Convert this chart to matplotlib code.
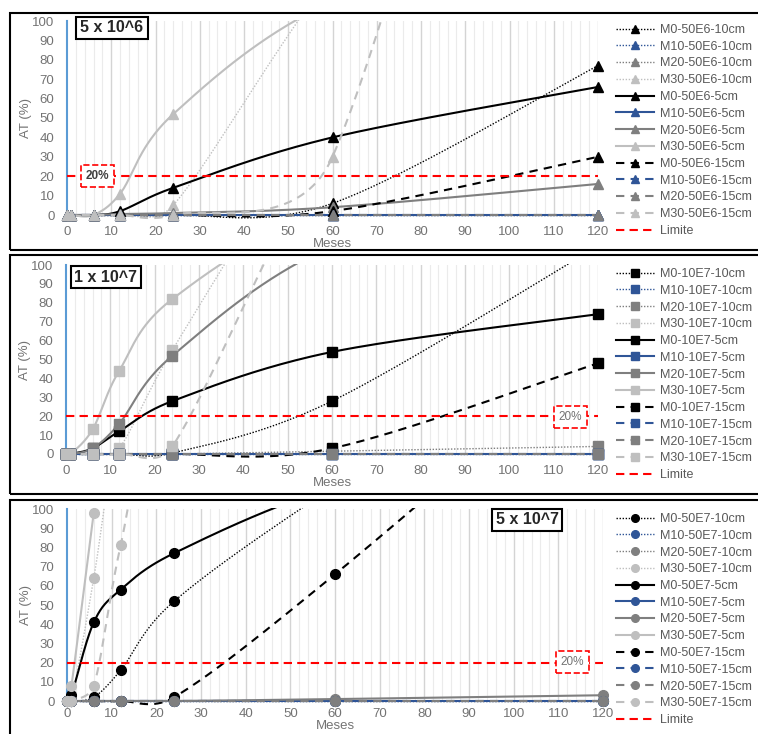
import numpy as np
import matplotlib
matplotlib.use("Agg")
import matplotlib.pyplot as plt
from matplotlib.lines import Line2D
from matplotlib.patches import Rectangle

plt.rcParams['font.family'] = ['Liberation Sans', 'DejaVu Sans']

# months where the data was measured
meses = [0, 1, 6, 12, 24, 60, 120]
zeros = [0, 0, 0, 0, 0, 0, 0]

# panel 1 : 5 x 10^6 (triangles)
p1_m0_10 = [0, 0, 0, 0, 0, 6, 77]
p1_m10_10 = zeros
p1_m20_10 = zeros
p1_m30_10 = [0, 0, 0, 0, 5, 125, 300]
p1_m0_5 = [0, 0, 0, 2, 14, 40, 66]
p1_m10_5 = zeros
p1_m20_5 = [0, 0, 0, 0.5, 1, 4, 16]
p1_m30_5 = [0, 0, 0, 11, 52, 110, 150]
p1_m0_15 = [0, 0, 0, 0, 0, 2, 30]
p1_m10_15 = zeros
p1_m20_15 = zeros
p1_m30_15 = [0, 0, 0, 0, 0, 30, 500]

# panel 2 : 1 x 10^7 (squares)
p2_m0_10 = [0, 0, 0, 0, 0.5, 28, 110]
p2_m10_10 = zeros
p2_m20_10 = [0, 0, 0, 0, 0, 1.5, 4]
p2_m30_10 = [0, 0, 0, 3, 55, 190, 400]
p2_m0_5 = [0, 0, 3, 12, 28, 54, 74]
p2_m10_5 = zeros
p2_m20_5 = [0, 0, 3, 16, 52, 110, 150]
p2_m30_5 = [0, 0, 13, 44, 82, 130, 160]
p2_m0_15 = [0, 0, 0, 0, 0, 3, 48]
p2_m10_15 = zeros
p2_m20_15 = zeros
p2_m30_15 = [0, 0, 0, 0, 4, 170, 400]

# panel 3 : 5 x 10^7 (circles)
p3_m0_10 = [0, 0, 2, 16, 52, 112, 200]
p3_m10_10 = zeros
p3_m20_10 = zeros
p3_m30_10 = [0, 0, 64, 150, 250, 400, 600]
p3_m0_5 = [0, 3, 41, 58, 77, 112, 150]
p3_m10_5 = zeros
p3_m20_5 = [0, 0, 0, 0, 0, 1, 3]
p3_m30_5 = [0, 8, 98, 200, 300, 450, 600]
p3_m0_15 = [0, 0, 0, 0, 2, 66, 185]
p3_m10_15 = zeros
p3_m20_15 = zeros
p3_m30_15 = [0, 0, 8, 81, 200, 400, 600]

limite = 20
prefixes = ['M0', 'M10', 'M20', 'M30']
espesores = ['10cm', '5cm', '15cm']

colores = ['#000000', '#2F5597', '#7F7F7F', '#BFBFBF']
estilos = {'10cm': (0, (1, 1.2)), '5cm': '-', '15cm': (0, (4, 3))}
grosor = {'10cm': 1.0, '5cm': 1.5, '15cm': 1.5}
gris_txt = '#737373'


def excel_smooth(xs, ys, sx=4.42, sy=1.94, n=40):
    # bezier smoothing like excel's "smoothed line"
    pts = np.column_stack([np.array(xs, float) * sx, np.array(ys, float) * sy])
    out = [pts[0]]
    for i in range(len(pts) - 1):
        p0 = pts[i - 1] if i > 0 else pts[i]
        p1 = pts[i]
        p2 = pts[i + 1]
        p3 = pts[i + 2] if i + 2 < len(pts) else pts[i + 1]
        d02 = np.hypot(*(p2 - p0))
        d12 = np.hypot(*(p2 - p1))
        d13 = np.hypot(*(p3 - p1))
        f0 = 1 / 6
        f3 = 1 / 6
        if d02 / 6 > d12 / 2 and d02 > 0:
            f0 = d12 / d02 / 2
        if d13 / 6 > d12 / 2 and d13 > 0:
            f3 = d12 / d13 / 2
        c1 = p1 + (p2 - p0) * f0
        c2 = p2 - (p3 - p1) * f3
        t = np.linspace(0, 1, n)[1:, None]
        seg = ((1 - t) ** 3) * p1 + 3 * ((1 - t) ** 2) * t * c1 + 3 * (1 - t) * t ** 2 * c2 + t ** 3 * p2
        out.extend(seg)
    out = np.array(out)
    return out[:, 0] / sx, out[:, 1] / sy


W, H = 758, 734
fig = plt.figure(figsize=(W / 100, H / 100), dpi=100)


def fx(px):
    return px / W


def fy(py):
    return 1 - py / H


paneles = [
    dict(series=[p1_m0_10, p1_m10_10, p1_m20_10, p1_m30_10, p1_m0_5, p1_m10_5, p1_m20_5, p1_m30_5,
                 p1_m0_15, p1_m10_15, p1_m20_15, p1_m30_15],
         tag='50E6', marker='^', ms=7, box=(10, 13, 250),
         ax=(67, 598, 21, 215), title='5 x 10^6', tpos=(112, 28),
         lim_lbl=(6.8, 20), lim_bold=True, leg_top=24, xpad=8, xlpad=0),
    dict(series=[p2_m0_10, p2_m10_10, p2_m20_10, p2_m30_10, p2_m0_5, p2_m10_5, p2_m20_5, p2_m30_5,
                 p2_m0_15, p2_m10_15, p2_m20_15, p2_m30_15],
         tag='10E7', marker='s', ms=6.5, box=(10, 255, 494),
         ax=(66, 598, 265, 454), title='1 x 10^7', tpos=(106, 277),
         lim_lbl=(113.8, 19.6), lim_bold=False, leg_top=268, xpad=8, xlpad=0),
    dict(series=[p3_m0_10, p3_m10_10, p3_m20_10, p3_m30_10, p3_m0_5, p3_m10_5, p3_m20_5, p3_m30_5,
                 p3_m0_15, p3_m10_15, p3_m20_15, p3_m30_15],
         tag='50E7', marker='o', ms=7, box=(10, 500, 745),
         ax=(67, 603, 509, 701), title='5 x 10^7', tpos=(527, 520),
         lim_lbl=(113.2, 20.3), lim_bold=False, leg_top=513, xpad=5, xlpad=0),
]

for p in paneles:
    bx, btop, bbot = p['box']
    fig.patches.append(Rectangle((fx(bx), fy(bbot)), fx(800 - bx), (bbot - btop) / H,
                                 transform=fig.transFigure, fill=False, ec='black', lw=1.5))
    x0, x1, ytop, ybot = p['ax']
    ax = fig.add_axes([fx(x0), fy(ybot), fx(x1 - x0), (ybot - ytop) / H])
    ax.set_xlim(0, 120)
    ax.set_ylim(0, 100)
    for s in ['top', 'right', 'bottom']:
        ax.spines[s].set_visible(False)
    ax.spines['left'].set_color('#5B9BD5')
    ax.spines['left'].set_linewidth(1.5)
    ax.spines['left'].set_zorder(1)
    ax.set_xticks(range(0, 121, 10))
    ax.set_yticks(range(0, 101, 10))
    ax.tick_params(length=0, labelsize=9.5, labelcolor=gris_txt)
    ax.tick_params(axis='x', pad=p['xpad'])
    ax.tick_params(axis='y', pad=9)
    for g in range(2, 121, 2):
        if g % 10 == 0:
            ax.axvline(g, color='#D4D4D4', lw=1.0, zorder=0)
        else:
            ax.axvline(g, color='#EBEBEB', lw=0.8, zorder=0)
    ax.set_xlabel('Meses', fontsize=9.5, color=gris_txt, labelpad=p['xlpad'])
    ax.set_ylabel('AT (%)', fontsize=9.5, color=gris_txt, labelpad=0)

    clip = Rectangle((-5, -4), 130, 104.6, transform=ax.transData)
    handles = []
    labels = []
    k = 0
    for esp in espesores:
        for j, pre in enumerate(prefixes):
            vals = p['series'][k]
            k += 1
            sxv, syv = excel_smooth(meses, vals)
            ln, = ax.plot(sxv, syv, color=colores[j], ls=estilos[esp], lw=grosor[esp], zorder=3)
            ln.set_clip_path(clip)
            mx = [m for m, v in zip(meses, vals) if v <= 100]
            my = [v for v in vals if v <= 100]
            ax.plot(mx, my, ls='none', marker=p['marker'], ms=p['ms'], color=colores[j],
                    clip_on=False, zorder=4)
            handles.append(Line2D([], [], color=colores[j], ls=estilos[esp], lw=grosor[esp],
                                  marker=p['marker'], ms=5.5))
            labels.append('%s-%s-%s' % (pre, p['tag'], esp))
    ax.plot([0, 120], [limite, limite], color='#FF0000', ls=(0, (4, 2.5)), lw=1.5, zorder=5)
    handles.append(Line2D([], [], color='#FF0000', ls=(0, (4, 2.5)), lw=1.5))
    labels.append('Limite')

    lx, ly = p['lim_lbl']
    ax.text(lx, ly, '20%', ha='center', va='center', fontsize=8.5,
            fontweight='bold' if p['lim_bold'] else 'normal',
            color='#404040' if p['lim_bold'] else gris_txt, zorder=6,
            bbox=dict(boxstyle='square,pad=0.4', fc='white', ec='#FF0000', ls='--', lw=1.2))

    tx, ty = p['tpos']
    fig.text(fx(tx), fy(ty), p['title'], ha='center', va='center', fontsize=11.5,
             fontweight='bold', color='#262626', zorder=10,
             bbox=dict(boxstyle='square,pad=0.25', fc='white', ec='black', lw=1.5))

    fig.legend(handles, labels, loc='upper left', bbox_to_anchor=(fx(616), fy(p['leg_top'])),
               frameon=False, fontsize=9, labelcolor='#595959', handlelength=3.0,
               handletextpad=0.5, labelspacing=0.38, borderpad=0, borderaxespad=0)

fig.savefig('out.png', dpi=100)
